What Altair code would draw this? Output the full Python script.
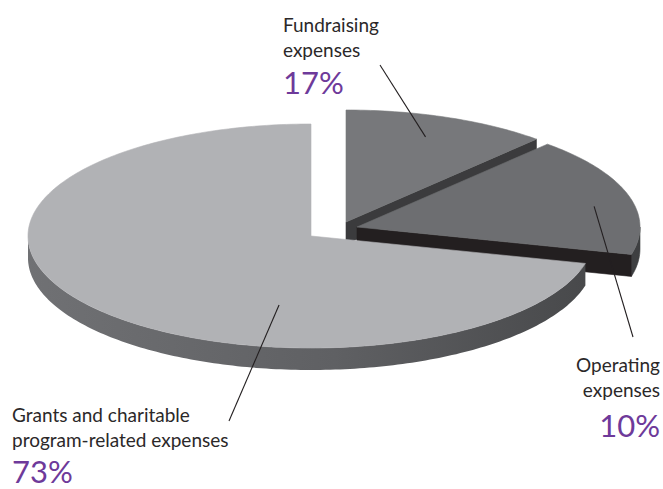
import math
import altair as alt
import pandas as pd

# ---------------- data ----------------
categories = ["Fundraising expenses", "Operating expenses",
              "Grants and charitable program-related expenses"]
label_lines = [["Fundraising", "expenses"],
               ["Operating", "expenses"],
               ["Grants and charitable", "program-related expenses"]]
values = [17, 10, 73]
pct_labels = ["17%", "10%", "73%"]

# ---------------- style ----------------
W, H = 663, 489
CX, CY = 311, 236          # pie centre (pixels)
RX, RY, DEPTH = 283, 112, 22
K = 0.5                    # angle foreshortening of the tilted pie
EXPLODE = [(35, -14), (46, -9), (0, 0)]
TOP = ["#77787b", "#6d6e71", "#b1b2b5"]
SIDE = ["#4a4b4d", "#3e3f41",
        {"gradient": "linear", "x1": 0, "y1": 0, "x2": 1, "y2": 0,
         "stops": [{"offset": 0, "color": "#707174"},
                   {"offset": 0.55, "color": "#5f6063"},
                   {"offset": 1, "color": "#48494b"}]}]
WALL = ["#3b3b3d", "#231f20", "#3b3b3d"]
TEXT_COLOR = "#2b2829"
PCT_COLOR = "#6e3a9a"
FONT = "Lato"
LABEL_POS = [(283, 32, "left"), (660, 372, "right"), (12, 422, "left")]
PCT_GAP = [37, 40, 36]
LEADER_IN = [(0.48, 0.81), (0.57, 0.858), (0.337, 0.626)]   # (fraction of slice, radius)
LEADER_OUT = [(380, 65), (633, 337), (229, 421)]


def to_t(theta):
    if theta >= 360 - 1e-9:
        return 360.0
    th = math.radians(theta)
    t = math.degrees(math.atan2(K * math.sin(th), math.cos(th)))
    return t + 360 if t < 0 else t


def pt(t, off, r=1.0, dz=0.0):
    a = math.radians(t)
    return [off[0] + r * RX * math.sin(a), off[1] - r * RY * math.cos(a) + dz]


def arc(t0, t1, off, dz=0.0, step=1.0):
    n = max(2, int(math.ceil(abs(t1 - t0) / step)) + 1)
    return [pt(t0 + (t1 - t0) * i / (n - 1), off, 1.0, dz) for i in range(n)]


def feature(ring):
    ring = ring + [ring[0]]
    return {"type": "Feature", "properties": {},
            "geometry": {"type": "Polygon", "coordinates": [ring]}}


total = sum(values)
cum = [0]
for v in values:
    cum.append(cum[-1] + v)
angles = [(to_t(360 * cum[i] / total), to_t(360 * cum[i + 1] / total))
          for i in range(len(values))]

proj = dict(type="identity", scale=1, translate=[CX, CY])
layers = []


def add_poly(ring, fill, stroke=True):
    kw = dict(fill=fill, strokeWidth=0)
    if stroke:
        kw = dict(fill=fill, stroke=fill, strokeWidth=0.6)
    layers.append(alt.Chart(alt.Data(values=[feature(ring)]))
                  .mark_geoshape(**kw).project(**proj))


for i, (t0, t1) in enumerate(angles):
    off = EXPLODE[i]
    c = [off[0], off[1]]
    # outer side (front half only)
    a, b = max(t0, 90), min(t1, 270)
    if a < b:
        ring = arc(a, b, off) + arc(b, a, off, DEPTH)
        add_poly(ring, SIDE[i], stroke=not isinstance(SIDE[i], dict))
    # radial walls facing the viewer
    if math.sin(math.radians(t1)) > 1e-6:
        p = pt(t1, off)
        ring = [c, p, [p[0], p[1] + DEPTH], [c[0], c[1] + DEPTH]]
        add_poly(ring, WALL[i])
    if math.sin(math.radians(t0)) < -1e-6:
        p = pt(t0, off)
        ring = [c, p, [p[0], p[1] + DEPTH], [c[0], c[1] + DEPTH]]
        add_poly(ring, WALL[i])
    # top face
    ring = [c] + arc(t0, t1, off)
    add_poly(ring, TOP[i])

# leader lines
rows = []
for i, (t0, t1) in enumerate(angles):
    f, r = LEADER_IN[i]
    p = pt(t0 + f * (t1 - t0), EXPLODE[i], r)
    rows.append({"x1": p[0] + CX, "y1": p[1] + CY,
                 "x2": LEADER_OUT[i][0], "y2": LEADER_OUT[i][1],
                 "category": categories[i]})
leaders = alt.Chart(pd.DataFrame(rows)).mark_rule(
    color="#231f20", strokeWidth=1.1).encode(
    x=alt.X("x1:Q", scale=None, axis=None),
    y=alt.Y("y1:Q", scale=None, axis=None),
    x2="x2:Q", y2="y2:Q")
layers.append(leaders)

# labels
for i in range(len(values)):
    x, y, align = LABEL_POS[i]
    name_df = pd.DataFrame([{"x": x, "y": y, "text": "\n".join(label_lines[i])}])
    layers.append(alt.Chart(name_df).mark_text(
        align=align, baseline="alphabetic", font=FONT, fontSize=19,
        lineBreak="\n", lineHeight=25, color=TEXT_COLOR).encode(
        x=alt.X("x:Q", scale=None, axis=None),
        y=alt.Y("y:Q", scale=None, axis=None), text="text:N"))
    pct_df = pd.DataFrame([{"x": x, "y": y + 25 + PCT_GAP[i], "text": pct_labels[i]}])
    layers.append(alt.Chart(pct_df).mark_text(
        align=align, baseline="alphabetic", font=FONT, fontSize=31,
        color=PCT_COLOR).encode(
        x=alt.X("x:Q", scale=None, axis=None),
        y=alt.Y("y:Q", scale=None, axis=None), text="text:N"))

chart = alt.layer(*layers).properties(
    width=W, height=H, padding=0, autosize="none", background="white"
).configure_view(stroke=None)

chart.save("out.html", embed_options={"renderer": "svg", "actions": False})
